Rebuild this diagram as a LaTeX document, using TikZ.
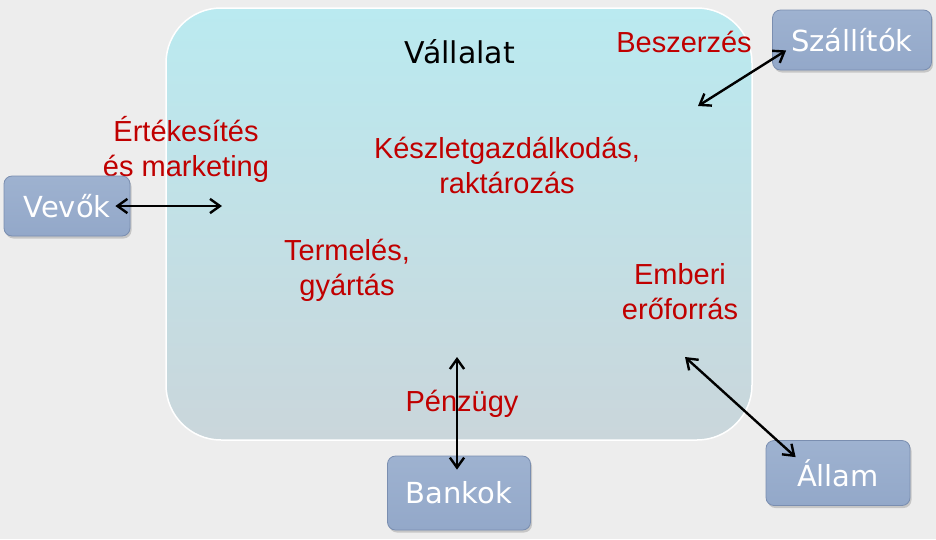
\documentclass[tikz,border=0pt]{standalone}
\usepackage{fontspec}
\setmainfont{Liberation Sans}
\newfontfamily\boxfont{DejaVu Sans}
\usetikzlibrary{arrows.meta,shadows,calc}
\definecolor{bgcol}{RGB}{237,237,237}
\definecolor{deptred}{RGB}{192,0,0}
\definecolor{partnerfill}{RGB}{147,168,201}
\definecolor{partnertop}{RGB}{158,178,208}
\definecolor{partnerline}{RGB}{122,142,176}
\definecolor{firmtop}{RGB}{186,234,240}
\definecolor{firmbot}{RGB}{202,214,219}
\tikzset{
  firm/.style={rounded corners=55pt,top color=firmtop,bottom color=firmbot,
               draw=white,line width=1.5pt,minimum width=586pt,minimum height=432pt},
  partner/.style={rounded corners=8pt,top color=partnertop,bottom color=partnerfill,
                  draw=partnerline,line width=0.8pt,text=white,
                  font=\boxfont\fontsize{29}{34}\selectfont,
                  drop shadow={opacity=0.35,shadow xshift=1.5pt,shadow yshift=-2.5pt}},
  dept/.style={text=deptred,font=\fontsize{29}{35}\selectfont,align=center},
  title/.style={font=\boxfont\fontsize{30}{36}\selectfont},
  link/.style={{Straight Barb[length=3.5mm,width=5mm]}-{Straight Barb[length=3.5mm,width=5mm]},
               line width=2.4pt},
}

\begin{document}
\begin{tikzpicture}[x=1pt,y=-1pt]
    \useasboundingbox[fill=bgcol] (0,0) rectangle (936,539);
    % the company
    \node[firm] (firm) at (459,224) {};
    \node[title] (name) at (460,52) {Vállalat};
    \node[dept] (purch) at (684,42) {Beszerzés};
    \node[dept] (sales) at (186,149) {Értékesítés\\és marketing};
    \node[dept] (stock) at (507,165) {Készletgazdálkodás,\\raktározás};
    \node[dept] (prod) at (347,270) {Termelés,\\gyártás};
    \node[dept] (hr) at (680,292) {Emberi\\erőforrás};
    \node[dept] (fin) at (462,404) {Pénzügy};
    % partners
    \node[partner,minimum width=126pt,minimum height=60pt] (buyers) at (67,206) {Vevők};
    \node[partner,minimum width=159pt,minimum height=60pt] (suppl) at (852,40) {Szállítók};
    \node[partner,minimum width=143pt,minimum height=74pt] (banks) at (459,493) {Bankok};
    \node[partner,minimum width=144pt,minimum height=65pt] (state) at (838,473) {Állam};
    % inner ends
    \coordinate (salesIn) at (222,206);
    \coordinate (purchIn) at (698,106);
    \coordinate (finIn) at (457,357);
    \coordinate (hrIn) at (685,357);
    \draw[link] ([xshift=-15pt]buyers.east) -- (salesIn);
    \draw[link] ($(suppl.south west)+(14,-20)$) -- (purchIn);
    \draw[link] ($(banks.north)+(-2,14)$) -- (finIn);
    \draw[link] ($(state.north west)+(30,17)$) -- (hrIn);
\end{tikzpicture}
\end{document}
